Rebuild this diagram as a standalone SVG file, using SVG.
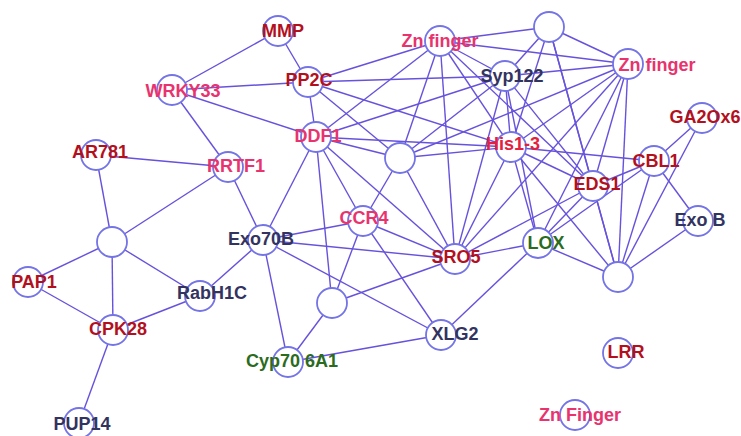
<svg xmlns="http://www.w3.org/2000/svg" width="741" height="436" viewBox="0 0 741 436">
<style>
.e line{stroke:#6652dc;stroke-width:1.4;fill:none}
.n circle{fill:#fff;stroke:#7474e6;stroke-width:1.8}
text{font-family:"Liberation Sans",Arial,sans-serif;font-weight:bold;font-size:18px;text-anchor:middle}
.r{fill:#b3101e}.p{fill:#e8336e}.h{fill:#e3203d}.d{fill:#33335f}.g{fill:#2b6b1d}
</style>
<rect width="741" height="436" fill="#fff"/>
<g id="connectors" class="e">
<line x1="278" y1="31" x2="172" y2="90"/>
<line x1="278" y1="31" x2="308" y2="82"/>
<line x1="172" y1="90" x2="308" y2="82"/>
<line x1="172" y1="90" x2="316" y2="137"/>
<line x1="172" y1="90" x2="228" y2="167"/>
<line x1="96" y1="155" x2="228" y2="167"/>
<line x1="96" y1="155" x2="112" y2="242"/>
<line x1="228" y1="167" x2="112" y2="242"/>
<line x1="228" y1="167" x2="263" y2="240"/>
<line x1="112" y1="242" x2="28" y2="282"/>
<line x1="112" y1="242" x2="113" y2="330"/>
<line x1="112" y1="242" x2="200" y2="296"/>
<line x1="28" y1="282" x2="113" y2="330"/>
<line x1="113" y1="330" x2="200" y2="296"/>
<line x1="113" y1="330" x2="79" y2="423"/>
<line x1="200" y1="296" x2="263" y2="240"/>
<line x1="263" y1="240" x2="316" y2="137"/>
<line x1="263" y1="240" x2="363" y2="221"/>
<line x1="263" y1="240" x2="455" y2="259"/>
<line x1="263" y1="240" x2="441" y2="335"/>
<line x1="263" y1="240" x2="288" y2="362"/>
<line x1="288" y1="362" x2="332" y2="303"/>
<line x1="288" y1="362" x2="441" y2="335"/>
<line x1="332" y1="303" x2="363" y2="221"/>
<line x1="332" y1="303" x2="455" y2="259"/>
<line x1="332" y1="303" x2="316" y2="137"/>
<line x1="363" y1="221" x2="441" y2="335"/>
<line x1="363" y1="221" x2="455" y2="259"/>
<line x1="441" y1="335" x2="538" y2="243"/>
<line x1="455" y1="259" x2="538" y2="243"/>
<line x1="316" y1="137" x2="308" y2="82"/>
<line x1="316" y1="137" x2="440" y2="41"/>
<line x1="316" y1="137" x2="505" y2="76"/>
<line x1="316" y1="137" x2="511" y2="147"/>
<line x1="316" y1="137" x2="400" y2="158"/>
<line x1="316" y1="137" x2="363" y2="221"/>
<line x1="316" y1="137" x2="455" y2="259"/>
<line x1="308" y1="82" x2="440" y2="41"/>
<line x1="308" y1="82" x2="505" y2="76"/>
<line x1="308" y1="82" x2="511" y2="147"/>
<line x1="308" y1="82" x2="400" y2="158"/>
<line x1="400" y1="158" x2="440" y2="41"/>
<line x1="400" y1="158" x2="505" y2="76"/>
<line x1="400" y1="158" x2="511" y2="147"/>
<line x1="400" y1="158" x2="363" y2="221"/>
<line x1="400" y1="158" x2="455" y2="259"/>
<line x1="440" y1="41" x2="549" y2="27"/>
<line x1="440" y1="41" x2="628" y2="64"/>
<line x1="440" y1="41" x2="505" y2="76"/>
<line x1="440" y1="41" x2="511" y2="147"/>
<line x1="440" y1="41" x2="455" y2="259"/>
<line x1="440" y1="41" x2="593" y2="186"/>
<line x1="505" y1="76" x2="549" y2="27"/>
<line x1="505" y1="76" x2="628" y2="64"/>
<line x1="505" y1="76" x2="511" y2="147"/>
<line x1="505" y1="76" x2="538" y2="243"/>
<line x1="505" y1="76" x2="455" y2="259"/>
<line x1="505" y1="76" x2="593" y2="186"/>
<line x1="549" y1="27" x2="628" y2="64"/>
<line x1="549" y1="27" x2="511" y2="147"/>
<line x1="549" y1="27" x2="593" y2="186"/>
<line x1="549" y1="27" x2="618" y2="277"/>
<line x1="628" y1="64" x2="400" y2="158"/>
<line x1="628" y1="64" x2="511" y2="147"/>
<line x1="628" y1="64" x2="593" y2="186"/>
<line x1="628" y1="64" x2="538" y2="243"/>
<line x1="628" y1="64" x2="455" y2="259"/>
<line x1="628" y1="64" x2="618" y2="277"/>
<line x1="511" y1="147" x2="654" y2="161"/>
<line x1="511" y1="147" x2="593" y2="186"/>
<line x1="511" y1="147" x2="538" y2="243"/>
<line x1="511" y1="147" x2="455" y2="259"/>
<line x1="511" y1="147" x2="618" y2="277"/>
<line x1="654" y1="161" x2="593" y2="186"/>
<line x1="654" y1="161" x2="702" y2="118"/>
<line x1="654" y1="161" x2="698" y2="221"/>
<line x1="654" y1="161" x2="538" y2="243"/>
<line x1="654" y1="161" x2="618" y2="277"/>
<line x1="593" y1="186" x2="618" y2="277"/>
<line x1="593" y1="186" x2="538" y2="243"/>
<line x1="593" y1="186" x2="455" y2="259"/>
<line x1="538" y1="243" x2="618" y2="277"/>
<line x1="618" y1="277" x2="702" y2="118"/>
<line x1="618" y1="277" x2="698" y2="221"/>
</g>
<g class="n">
<g id="n-mmp"><circle cx="278" cy="31" r="15"/><text x="283" y="37" class="r">MMP</text></g>
<g id="n-pp2c"><circle cx="308" cy="82" r="15"/><text x="309" y="86" class="r">PP2C</text></g>
<g id="n-wrky33"><circle cx="172" cy="90" r="15"/><text x="183" y="97" class="p">WRKY33</text></g>
<g id="n-ar781"><circle cx="96" cy="155" r="15"/><text x="100" y="158" class="r">AR781</text></g>
<g id="n-rrtf1"><circle cx="228" cy="167" r="15"/><text x="236" y="172" class="p">RRTF1</text></g>
<g id="n-ddf1"><circle cx="316" cy="137" r="15"/><text x="318" y="142" class="p">DDF1</text></g>
<g id="n-znfinger-top"><circle cx="440" cy="41" r="15"/><text x="440" y="47" class="p">Zn finger</text></g>
<g id="n-center"><circle cx="400" cy="158" r="15"/></g>
<g id="n-syp122"><circle cx="505" cy="76" r="15"/><text x="512" y="82" class="d">Syp122</text></g>
<g id="n-top"><circle cx="549" cy="27" r="15"/></g>
<g id="n-znfinger-right"><circle cx="628" cy="64" r="15"/><text x="657" y="71" class="p">Zn finger</text></g>
<g id="n-ga2ox6"><circle cx="702" cy="118" r="15"/><text x="705" y="123" class="r">GA2Ox6</text></g>
<g id="n-his13"><circle cx="511" cy="147" r="15"/><text x="513" y="150" class="h">His1-3</text></g>
<g id="n-cbl1"><circle cx="654" cy="161" r="15"/><text x="656" y="167" class="r">CBL1</text></g>
<g id="n-eds1"><circle cx="593" cy="186" r="15"/><text x="597" y="190" class="r">EDS1</text></g>
<g id="n-exob"><circle cx="698" cy="221" r="15"/><text x="700" y="226" class="d">Exo B</text></g>
<g id="n-lox"><circle cx="538" cy="243" r="15"/><text x="546" y="249" class="g">LOX</text></g>
<g id="n-bottomright"><circle cx="618" cy="277" r="15"/></g>
<g id="n-lrr"><circle cx="618" cy="353" r="15"/><text x="626" y="358" class="r">LRR</text></g>
<g id="n-znfinger-bottom"><circle cx="575" cy="415" r="15"/><text x="580" y="421" class="p">Zn Finger</text></g>
<g id="n-pap1"><circle cx="28" cy="282" r="15"/><text x="34" y="288" class="r">PAP1</text></g>
<g id="n-left"><circle cx="112" cy="242" r="15"/></g>
<g id="n-cpk28"><circle cx="113" cy="330" r="15"/><text x="118" y="335" class="r">CPK28</text></g>
<g id="n-rabh1c"><circle cx="200" cy="296" r="15"/><text x="212" y="299" class="d">RabH1C</text></g>
<g id="n-pup14"><circle cx="79" cy="423" r="15"/><text x="82" y="430" class="d">PUP14</text></g>
<g id="n-exo70b"><circle cx="263" cy="240" r="15"/><text x="261" y="245" class="d">Exo70B</text></g>
<g id="n-ccr4"><circle cx="363" cy="221" r="15"/><text x="364" y="224" class="p">CCR4</text></g>
<g id="n-sro5"><circle cx="455" cy="259" r="15"/><text x="456" y="263" class="r">SRO5</text></g>
<g id="n-midbottom"><circle cx="332" cy="303" r="15"/></g>
<g id="n-xlg2"><circle cx="441" cy="335" r="15"/><text x="455" y="340" class="d">XLG2</text></g>
<g id="n-cyp706a1"><circle cx="288" cy="362" r="15"/><text x="292" y="367" class="g">Cyp70 6A1</text></g>
</g>
</svg>
